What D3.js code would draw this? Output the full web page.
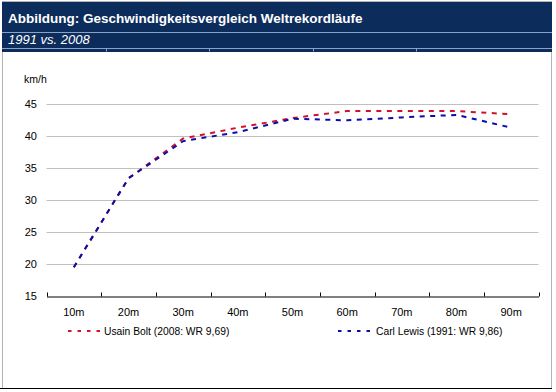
<!DOCTYPE html>
<html><head><meta charset="utf-8">
<script src="https://cdn.jsdelivr.net/npm/d3@7"></script>
<style>body{margin:0;background:#fff}svg{display:block;font-family:Arial,"Liberation Sans",sans-serif}</style>
</head><body><svg id="c" width="556" height="392"></svg>
<script>
const categories = ["10m","20m","30m","40m","50m","60m","70m","80m","90m"];
const boltSpeeds = [19.5,33.4,39.6,41.3,42.8,43.9,43.9,43.9,43.4];
const lewisSpeeds = [19.5,33.4,39.2,40.6,42.7,42.45,42.9,43.3,41.3];
const yTicks = [15,20,25,30,35,40,45];
const seriesNames = ["Usain Bolt (2008: WR 9,69)","Carl Lewis (1991: WR 9,86)"];
const seriesColors = ["#d0122c","#0c0cab"];
const titleText = "Abbildung: Geschwindigkeitsvergleich Weltrekordläufe";
const subtitleText = "1991 vs. 2008";
const unitText = "km/h";

const svg = d3.select("#c");
// frame
svg.append("rect").attr("x",2.5).attr("y",1.5).attr("width",549).attr("height",387)
  .attr("fill","#fff").attr("stroke","#b4b4b4");
svg.append("line").attr("x1",0).attr("x2",552).attr("y1",388.5).attr("y2",388.5).attr("stroke","#000");
// header
svg.append("rect").attr("x",2).attr("y",2).attr("width",550).attr("height",50).attr("fill","#0c2c5c");
svg.append("line").attr("x1",2).attr("x2",552).attr("y1",32.5).attr("y2",32.5).attr("stroke","#8aa2c6");
svg.append("line").attr("x1",2).attr("x2",552).attr("y1",48.5).attr("y2",48.5).attr("stroke","#8aa2c6");
[106,209,313,416].forEach(v=>svg.append("line").attr("x1",v+.5).attr("x2",v+.5).attr("y1",48.5).attr("y2",51.5).attr("stroke","#8aa2c6"));
svg.append("text").attr("x",8).attr("y",23).attr("fill","#fff").attr("font-weight","bold").attr("font-size",13.5).text(titleText);
svg.append("text").attr("x",8).attr("y",44).attr("fill","#fff").attr("font-style","italic").attr("font-size",13).text(subtitleText);

const x = d3.scaleBand().domain(categories).range([46.5,538.5]).padding(0);
const y = d3.scaleLinear().domain([15,45]).range([296,104]);

// gridlines
svg.append("g").selectAll("line").data(yTicks.filter(t=>t>15)).join("line")
  .attr("x1",46.5).attr("x2",538.5)
  .attr("y1",d=>Math.round(y(d))+.5).attr("y2",d=>Math.round(y(d))+.5)
  .attr("stroke","#c0c0c0");

// y axis labels
const ya = svg.append("g").attr("transform","translate(37,0)")
  .call(d3.axisLeft(y).tickValues(yTicks).tickSize(0).tickPadding(0));
ya.select(".domain").remove();
ya.selectAll("text").attr("font-size",11).attr("fill","#000").attr("font-family","Arial,'Liberation Sans',sans-serif");

svg.append("text").attr("x",24).attr("y",83).attr("font-size",10.5).attr("fill","#000").text(unitText);

// x axis
const xa = svg.append("g").attr("transform","translate(0,296.5)")
  .call(d3.axisBottom(x).tickSize(0).tickPadding(12));
xa.select(".domain").attr("stroke","#000");
xa.selectAll("text").attr("font-size",11).attr("fill","#000").attr("font-family","Arial,'Liberation Sans',sans-serif");
const bounds = categories.map(c=>x(c)).concat([x.range()[1]]);
xa.selectAll(".bt").data(bounds).join("line").attr("class","bt")
  .attr("x1",d=>Math.round(d)+.5).attr("x2",d=>Math.round(d)+.5)
  .attr("y1",-4).attr("y2",0).attr("stroke","#000");

// lines
const line = d3.line().x((d,i)=>x(categories[i])+x.bandwidth()/2).y(d=>y(d));
[boltSpeeds,lewisSpeeds].forEach((s,i)=>{
  svg.append("path").datum(s).attr("d",line).attr("fill","none")
    .attr("stroke",seriesColors[i]).attr("stroke-width",2).attr("stroke-dasharray","5,5.5");
});

// legend
const legX = [68,338], legTX=[104,376];
seriesNames.forEach((n,i)=>{
  svg.append("line").attr("x1",legX[i]).attr("x2",legX[i]+34).attr("y1",331).attr("y2",331)
    .attr("stroke",seriesColors[i]).attr("stroke-width",2).attr("stroke-dasharray","3.5,6");
  svg.append("text").attr("x",legTX[i]).attr("y",335).attr("font-size",10.3).attr("fill","#000").text(n);
});
</script></body></html>
